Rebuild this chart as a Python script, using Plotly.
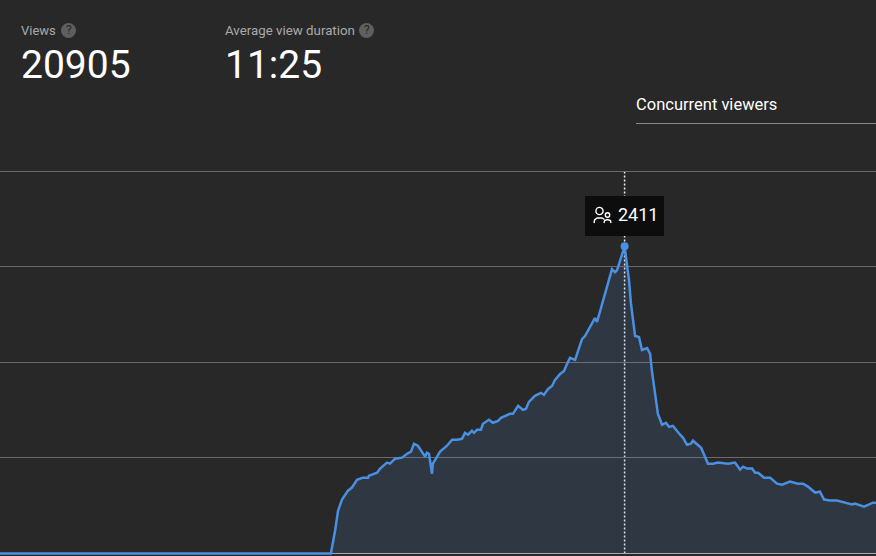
import plotly.graph_objects as go

W, H = 876, 556
BG = "#282828"
LINE = "#4a90e2"

minutes = [0, 110.3, 111.7, 112.7, 114, 116, 117.3, 119, 121, 122.7, 123, 125.7, 126.7, 129, 130, 131.7,
           134, 135.7, 137, 138, 139.3, 140.7, 141.7, 142.3, 143, 144, 144.3, 146.7, 148, 149, 150.7,
           152.3, 154, 155, 156, 157.3, 158, 159, 160.3, 161, 163, 164.3, 166, 167, 170, 171, 172.7,
           174.3, 175.3, 176.3, 178.3, 180.3, 181.3, 182.7, 184, 185, 186.7, 188, 189, 190, 191.7,
           194, 195, 198.3, 199, 204, 205, 205.7, 208.2, 209, 209.7, 210.3, 211.7, 213, 214, 215.7,
           216.7, 217.3, 218.3, 219.3, 220.7, 222, 223, 224.3, 226.7, 227.7, 229, 230.3, 231, 233.7,
           236, 237.7, 239.3, 242.7, 245, 246.7, 247.7, 249, 250.7, 251.7, 252.7, 254.7, 256.7, 259,
           260.7, 263.3, 266, 267.7, 269.3, 271.7, 273.3, 274.7, 276.7, 279, 281.7, 284, 285, 288, 291, 292]
viewers = [0, 0, 180, 337, 423, 493, 517, 579, 595, 595, 611, 634, 666, 713, 705, 744,
           752, 783, 799, 861, 846, 799, 760, 791, 783, 626, 705, 799, 822, 846, 893,
           893, 900, 947, 932, 963, 947, 971, 971, 1018, 1049, 1026, 1041, 1065, 1096, 1096, 1159,
           1128, 1135, 1190, 1237, 1261, 1245, 1292, 1315, 1362, 1409, 1433, 1488, 1535, 1519,
           1683, 1707, 1848, 1817, 2232, 2208, 2224, 2411, 2271, 2138, 1965, 1707, 1699, 1597, 1613,
           1566, 1433, 1253, 1096, 1010, 1026, 994, 1002, 932, 908, 853, 861, 885, 830,
           705, 705, 713, 705, 713, 658, 681, 666, 666, 634, 634, 595, 595, 548,
           540, 564, 548, 548, 525, 478, 485, 423, 415, 415, 399, 384, 392, 368, 399, 399]
grid_values = [0, 750, 1500, 2250, 3000]
peak_minute = 208.2
peak_viewers = 2411
views_label = "Views"
views_value = "20905"
duration_label = "Average view duration"
duration_value = "11:25"
tab_label = "Concurrent viewers"


def px(x):
    return x / W


def py(y):
    return 1 - y / H


def text(x, y, s, size, color, anchor="left"):
    return dict(x=px(x), y=py(y), xref="paper", yref="paper", text=s, showarrow=False,
                xanchor=anchor, yanchor="middle", align="left", xshift=0, yshift=0,
                font=dict(family="Roboto", size=size, color=color))


def pshape(path, **kw):
    return dict(type="path", path=path, xref="paper", yref="paper", **kw)


def circle(cx, cy, r, **kw):
    return dict(type="circle", xref="paper", yref="paper",
                x0=px(cx - r), x1=px(cx + r), y0=py(cy + r), y1=py(cy - r), **kw)


def arc(pts):
    return "M " + " L ".join(f"{px(a)} {py(b)}" for a, b in pts)


fig = go.Figure()
fig.add_trace(go.Scatter(x=minutes, y=viewers, mode="lines", fill="tozeroy",
                         fillcolor="rgba(90,150,230,0.14)",
                         line=dict(color=LINE, width=2.5), hoverinfo="skip"))
fig.add_trace(go.Scatter(x=[peak_minute], y=[peak_viewers], mode="markers",
                         marker=dict(color=LINE, size=8), hoverinfo="skip"))

shapes = [
    dict(type="line", xref="x", yref="y", x0=peak_minute, x1=peak_minute, y0=0, y1=grid_values[-1],
         line=dict(color="#eeeeee", width=1.5, dash="2px,2px"), layer="below"),
    dict(type="rect", xref="paper", yref="paper", x0=px(585), x1=px(664), y0=py(236), y1=py(196),
         fillcolor="#0d0d0d", line=dict(width=0), layer="above"),
    dict(type="line", xref="paper", yref="paper", x0=px(636), x1=1, y0=py(123.5), y1=py(123.5),
         line=dict(color="#8a8a8a", width=1)),
    circle(599.5, 211, 3.6, line=dict(color="white", width=1.4), layer="above"),
    circle(607.5, 215, 2.2, line=dict(color="white", width=1.4), layer="above"),
    pshape(arc([(594, 223), (594.6, 220), (597, 218), (602, 218), (604.5, 219.5)]),
           line=dict(color="white", width=1.4), layer="above"),
    pshape(arc([(604, 223), (604.6, 220.5), (607.5, 219.5), (610.4, 220.5), (611, 223)]),
           line=dict(color="white", width=1.4), layer="above"),
    circle(68.5, 30.5, 7.5, fillcolor="#5f5f5f", line=dict(width=0)),
    circle(366.5, 30.5, 7.5, fillcolor="#5f5f5f", line=dict(width=0)),
]

annotations = [
    text(19, 30, views_label, 13, "#aaaaaa"),
    text(223, 30, duration_label, 13.3, "#aaaaaa"),
    text(19, 65, views_value, 39, "#ffffff"),
    text(223, 65, duration_value, 39, "#ffffff"),
    text(634, 105, tab_label, 16.5, "#ffffff"),
    text(616, 214, str(peak_viewers), 18, "#ffffff"),
    text(68.5, 30.5, "?", 12, "#282828", "center"),
    text(366.5, 30.5, "?", 12, "#282828", "center"),
]

fig.update_layout(
    width=W, height=H, autosize=False,
    margin=dict(l=0, r=0, t=0, b=0),
    paper_bgcolor=BG, plot_bgcolor=BG, showlegend=False,
    shapes=shapes, annotations=annotations,
    font=dict(family="Roboto"),
    xaxis=dict(range=[0, 292], showgrid=False, zeroline=False, showticklabels=False, ticks="", fixedrange=True),
    yaxis=dict(range=[-20, 4345], tickvals=grid_values, showticklabels=False, ticks="",
               showgrid=True, gridcolor="#6a6a6a", gridwidth=1,
               zeroline=True, zerolinecolor="#aaaaaa", zerolinewidth=1, fixedrange=True),
)
fig.write_html("out.html", config=dict(displayModeBar=False),
               post_script="document.body.style.margin='0';document.body.style.overflow='hidden';document.body.style.background='#282828';")
